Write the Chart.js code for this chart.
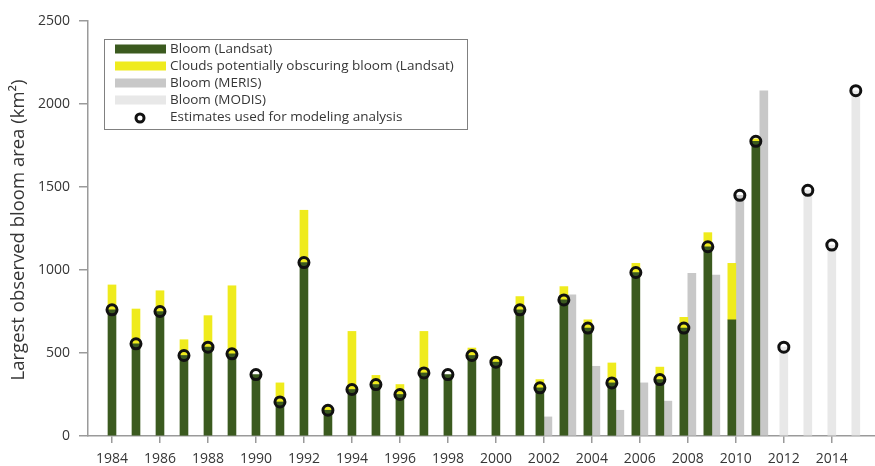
<!DOCTYPE html>
<html>
<head>
<meta charset="utf-8">
<script src="https://cdn.jsdelivr.net/npm/chart.js@4.4.1/dist/chart.umd.min.js"></script>
<style>
  html, body { margin: 0; padding: 0; background: #fff; }
  #wrap { width: 875px; height: 466px; }
</style>
</head>
<body>
<div id="wrap"><canvas id="bloomChart" width="875" height="466"></canvas></div>
<script>
// 연도별 데이터 (그림에서 읽은 값, km²)
const years = [1984, 1985, 1986, 1987, 1988, 1989, 1990, 1991, 1992, 1993, 1994, 1995, 1996, 1997, 1998, 1999,
  2000, 2001, 2002, 2003, 2004, 2005, 2006, 2007, 2008, 2009, 2010, 2011, 2012, 2013, 2014, 2015];
const landsatBloom = [760, 555, 750, 485, 535, 495, 370, 205, 1045, 155, 280, 310, 250, 380, 370, 485,
  445, 760, 290, 820, 650, 320, 985, 340, 650, 1140, 700, 1775, null, null, null, null];
const landsatClouds = [150, 210, 125, 95, 190, 410, null, 115, 315, 20, 350, 55, 60, 250, null, 45,
  30, 80, 50, 80, 50, 120, 55, 75, 65, 85, 340, 15, null, null, null, null];
const merisBloom = [null, null, null, null, null, null, null, null, null, null, null, null, null, null, null, null,
  null, null, 115, 850, 420, 155, 320, 210, 980, 970, 1450, 2080, null, null, null, null];
const modisBloom = [null, null, null, null, null, null, null, null, null, null, null, null, null, null, null, null,
  null, null, null, null, null, null, null, null, null, null, null, null, 535, 1480, 1150, 2080];
const estimates = [760, 555, 750, 485, 535, 495, 370, 205, 1045, 155, 280, 310, 250, 380, 370, 485,
  445, 760, 290, 820, 650, 320, 985, 340, 650, 1140, 1450, 1775, 535, 1480, 1150, 2080];
const estimateSource = ["landsat", "landsat", "landsat", "landsat", "landsat", "landsat", "landsat", "landsat",
  "landsat", "landsat", "landsat", "landsat", "landsat", "landsat", "landsat", "landsat",
  "landsat", "landsat", "landsat", "landsat", "landsat", "landsat", "landsat", "landsat",
  "landsat", "landsat", "meris", "landsat", "modis", "modis", "modis", "modis"];
const tickYears = [1984, 1986, 1988, 1990, 1992, 1994, 1996, 1998, 2000, 2002, 2004, 2006, 2008, 2010, 2012, 2014];
const yTicks = [0, 500, 1000, 1500, 2000, 2500];
const yTitle = "Largest observed bloom area (km²)";

const FONT = "'Open Sans', 'DejaVu Sans', sans-serif";
const TEXT = "#363636";
const AXIS = "#9a9a9a";

const pts = (arr) => years.map((yr, i) => ({ x: yr, y: arr[i] }));
const sourceIndex = { landsat: 0, meris: 2, modis: 3 };

// 동그라미를 해당 막대 위로 옮기기
const alignEstimates = {
  id: "alignEstimates",
  afterDatasetsUpdate(chart) {
    const est = chart.getDatasetMeta(4);
    est.data.forEach((pt, i) => {
      const bar = chart.getDatasetMeta(sourceIndex[estimateSource[i]]).data[i];
      if (bar && isFinite(bar.x)) pt.x = bar.x;
    });
  },
};

// 테두리 있는 범례 + 세로 축 제목
const boxLegend = {
  id: "boxLegend",
  afterDraw(chart) {
    const c = chart.ctx;
    const ds = chart.data.datasets;
    c.save();
    c.strokeStyle = "#808080";
    c.lineWidth = 1;
    c.strokeRect(104.5, 39.5, 363, 90);
    c.font = "13.5px " + FONT;
    c.textBaseline = "middle";
    ds.forEach((d, i) => {
      const y = 49 + i * 17;
      if (d.type === "line") {
        c.beginPath();
        c.arc(140, y + 1, 4, 0, Math.PI * 2);
        c.lineWidth = 3;
        c.strokeStyle = "#111";
        c.stroke();
      } else {
        c.fillStyle = d.backgroundColor;
        c.fillRect(115, y - 4.5, 51, 9);
      }
      c.fillStyle = TEXT;
      c.fillText(d.label, 170, y);
    });

    c.translate(19, 230);
    c.rotate(-Math.PI / 2);
    c.textAlign = "center";
    c.font = "18.5px " + FONT;
    c.fillStyle = TEXT;
    c.fillText(yTitle, 0, 0);
    c.restore();
  },
};

const ctx = document.getElementById("bloomChart").getContext("2d");
const bloomChart = new Chart(ctx, {
  type: "bar",
  data: {
    datasets: [
      { label: "Bloom (Landsat)", data: pts(landsatBloom), backgroundColor: "#3b5a1f", stack: "landsat" },
      { label: "Clouds potentially obscuring bloom (Landsat)", data: pts(landsatClouds), backgroundColor: "#efeb1d", stack: "landsat" },
      { label: "Bloom (MERIS)", data: pts(merisBloom), backgroundColor: "#c8c8c8", stack: "meris" },
      { label: "Bloom (MODIS)", data: pts(modisBloom), backgroundColor: "#e8e8e8", stack: "modis" },
      {
        type: "line",
        label: "Estimates used for modeling analysis",
        data: pts(estimates),
        showLine: false,
        pointRadius: 5,
        pointBorderWidth: 3,
        pointBorderColor: "#111",
        pointBackgroundColor: "rgba(0,0,0,0)",
        order: -1,
      },
    ],
  },
  options: {
    responsive: false,
    animation: false,
    skipNull: true,
    barThickness: 8,
    layout: { autoPadding: false, padding: { top: 21, right: 0, left: 0, bottom: 0 } },
    scales: {
      x: {
        type: "linear",
        offset: false,
        min: 1983,
        max: 2015.8,
        afterBuildTicks(scale) {
          scale.ticks = tickYears.map((v) => ({ value: v }));
        },
        ticks: {
          autoSkip: false,
          maxRotation: 0,
          padding: 8,
          color: TEXT,
          font: { family: FONT, size: 14 },
          callback: (v) => String(v),
        },
        grid: { offset: false, drawOnChartArea: false, tickLength: 7, color: AXIS, lineWidth: 1.5 },
        border: { color: AXIS, width: 1.5 },
        afterFit(scale) {
          scale.height = 30;
          scale.paddingLeft = 0;
          scale.paddingRight = 0;
        },
      },
      y: {
        stacked: true,
        min: 0,
        max: 2500,
        afterBuildTicks(scale) {
          scale.ticks = yTicks.map((v) => ({ value: v }));
        },
        ticks: {
          padding: 9,
          color: TEXT,
          font: { family: FONT, size: 14 },
          callback: (v) => String(v),
        },
        grid: { drawOnChartArea: false, tickLength: 9, color: AXIS, lineWidth: 1.5 },
        border: { color: AXIS, width: 1.5 },
        afterFit(scale) { scale.width = 88; },
      },
    },
    plugins: {
      legend: { display: false },
      tooltip: { enabled: false },
    },
  },
  plugins: [alignEstimates, boxLegend],
});
</script>
</body>
</html>
